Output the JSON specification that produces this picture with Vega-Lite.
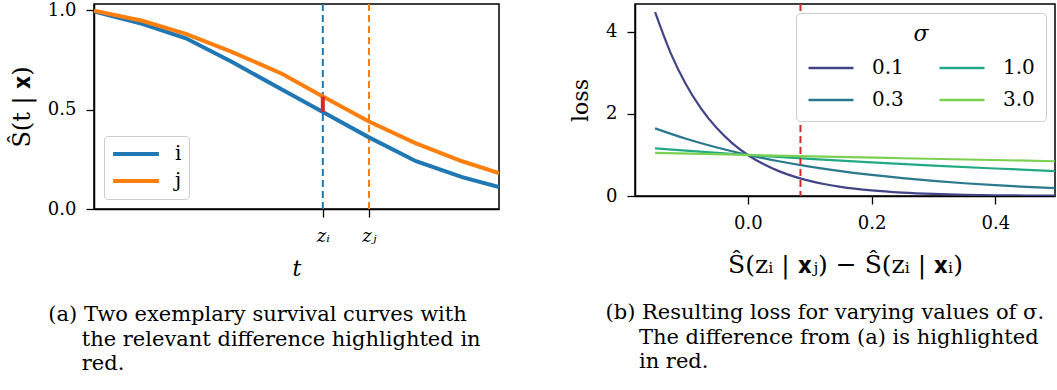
{
  "$schema": "https://vega.github.io/schema/vega-lite/v6.json",
  "padding": {"left": 9, "top": 0, "right": 0, "bottom": 0},
  "background": "white",
  "config": {
    "font": "DejaVu Serif",
    "view": {"stroke": "black", "strokeWidth": 1.5},
    "axis": {
      "grid": false,
      "domainColor": "black",
      "domainWidth": 1.5,
      "tickColor": "black",
      "tickWidth": 1.3,
      "tickSize": 8,
      "labelPadding": 10,
      "labelColor": "black",
      "labelFontSize": 18,
      "labelFont": "DejaVu Serif",
      "titleFont": "DejaVu Serif",
      "titleFontSize": 22,
      "titleFontWeight": "normal",
      "titleColor": "black"
    },
    "legend": {
      "labelFont": "DejaVu Serif",
      "titleFont": "DejaVu Serif",
      "labelColor": "black",
      "titleColor": "black"
    },
    "title": {"font": "DejaVu Serif", "fontWeight": "normal", "color": "black"}
  },
  "resolve": {"scale": {"color": "independent"}, "legend": {"color": "independent"}},
  "datasets": {
    "surv": [
      {"t": 0, "s": 0.993, "who": "i"},
      {"t": 1.19, "s": 0.93, "who": "i"},
      {"t": 2.27, "s": 0.858, "who": "i"},
      {"t": 3.4, "s": 0.74, "who": "i"},
      {"t": 4.64, "s": 0.6, "who": "i"},
      {"t": 5.65, "s": 0.487, "who": "i"},
      {"t": 6.79, "s": 0.36, "who": "i"},
      {"t": 7.95, "s": 0.24, "who": "i"},
      {"t": 9.09, "s": 0.16, "who": "i"},
      {"t": 10, "s": 0.11, "who": "i"},
      {"t": 0, "s": 0.997, "who": "j"},
      {"t": 1.19, "s": 0.946, "who": "j"},
      {"t": 2.27, "s": 0.88, "who": "j"},
      {"t": 3.4, "s": 0.79, "who": "j"},
      {"t": 4.64, "s": 0.68, "who": "j"},
      {"t": 5.65, "s": 0.565, "who": "j"},
      {"t": 6.79, "s": 0.44, "who": "j"},
      {"t": 7.95, "s": 0.33, "who": "j"},
      {"t": 9.09, "s": 0.24, "who": "j"},
      {"t": 10, "s": 0.18, "who": "j"}
    ],
    "marks": [
      {"t": 5.65, "who": "i"},
      {"t": 6.79, "who": "j"}
    ],
    "diff": [
      {"t": 5.65, "lo": 0.487, "hi": 0.565}
    ],
    "loss": [
      {"d": -0.15, "loss": 4.4817, "sigma": "0.1"},
      {"d": -0.125, "loss": 3.4903, "sigma": "0.1"},
      {"d": -0.1, "loss": 2.7183, "sigma": "0.1"},
      {"d": -0.075, "loss": 2.117, "sigma": "0.1"},
      {"d": -0.05, "loss": 1.6487, "sigma": "0.1"},
      {"d": -0.025, "loss": 1.284, "sigma": "0.1"},
      {"d": 0, "loss": 1, "sigma": "0.1"},
      {"d": 0.025, "loss": 0.7788, "sigma": "0.1"},
      {"d": 0.05, "loss": 0.6065, "sigma": "0.1"},
      {"d": 0.075, "loss": 0.4724, "sigma": "0.1"},
      {"d": 0.1, "loss": 0.3679, "sigma": "0.1"},
      {"d": 0.125, "loss": 0.2865, "sigma": "0.1"},
      {"d": 0.15, "loss": 0.2231, "sigma": "0.1"},
      {"d": 0.2, "loss": 0.1353, "sigma": "0.1"},
      {"d": 0.25, "loss": 0.0821, "sigma": "0.1"},
      {"d": 0.3, "loss": 0.0498, "sigma": "0.1"},
      {"d": 0.35, "loss": 0.0302, "sigma": "0.1"},
      {"d": 0.4, "loss": 0.0183, "sigma": "0.1"},
      {"d": 0.45, "loss": 0.0111, "sigma": "0.1"},
      {"d": 0.5, "loss": 0.0067, "sigma": "0.1"},
      {"d": -0.15, "loss": 1.6487, "sigma": "0.3"},
      {"d": -0.1, "loss": 1.3956, "sigma": "0.3"},
      {"d": -0.05, "loss": 1.1814, "sigma": "0.3"},
      {"d": 0, "loss": 1, "sigma": "0.3"},
      {"d": 0.05, "loss": 0.8465, "sigma": "0.3"},
      {"d": 0.1, "loss": 0.7165, "sigma": "0.3"},
      {"d": 0.15, "loss": 0.6065, "sigma": "0.3"},
      {"d": 0.2, "loss": 0.5134, "sigma": "0.3"},
      {"d": 0.25, "loss": 0.4346, "sigma": "0.3"},
      {"d": 0.3, "loss": 0.3679, "sigma": "0.3"},
      {"d": 0.35, "loss": 0.3114, "sigma": "0.3"},
      {"d": 0.4, "loss": 0.2636, "sigma": "0.3"},
      {"d": 0.45, "loss": 0.2231, "sigma": "0.3"},
      {"d": 0.5, "loss": 0.1889, "sigma": "0.3"},
      {"d": -0.15, "loss": 1.1618, "sigma": "1.0"},
      {"d": -0.1, "loss": 1.1052, "sigma": "1.0"},
      {"d": -0.05, "loss": 1.0513, "sigma": "1.0"},
      {"d": 0, "loss": 1, "sigma": "1.0"},
      {"d": 0.1, "loss": 0.9048, "sigma": "1.0"},
      {"d": 0.2, "loss": 0.8187, "sigma": "1.0"},
      {"d": 0.3, "loss": 0.7408, "sigma": "1.0"},
      {"d": 0.4, "loss": 0.6703, "sigma": "1.0"},
      {"d": 0.5, "loss": 0.6065, "sigma": "1.0"},
      {"d": -0.15, "loss": 1.0513, "sigma": "3.0"},
      {"d": 0, "loss": 1, "sigma": "3.0"},
      {"d": 0.25, "loss": 0.92, "sigma": "3.0"},
      {"d": 0.5, "loss": 0.8465, "sigma": "3.0"}
    ],
    "cut": [
      {"d": 0.085}
    ]
  },
  "hconcat": [
    {
      "width": 405,
      "height": 205,
      "title": {
        "text": ["(a) Two exemplary survival curves with", "\u200b\u00a0\u00a0\u00a0\u00a0\u00a0the relevant difference highlighted in", "\u200b\u00a0\u00a0\u00a0\u00a0\u00a0red."],
        "orient": "bottom",
        "anchor": "start",
        "fontSize": 21,
        "lineHeight": 24.5,
        "dx": 38,
        "offset": 25
      },
      "layer": [
        {
          "data": {"name": "marks"},
          "transform": [{"filter": "datum.who == 'i'"}],
          "mark": {"type": "rule", "color": "#1f77b4", "strokeWidth": 2, "strokeDash": [7, 4]},
          "encoding": {
            "x": {"field": "t", "type": "quantitative", "scale": {"domain": [0, 10], "nice": false}}
          }
        },
        {
          "data": {"name": "marks"},
          "transform": [{"filter": "datum.who == 'j'"}],
          "mark": {"type": "rule", "color": "#ff7f0e", "strokeWidth": 2, "strokeDash": [7, 4]},
          "encoding": {
            "x": {"field": "t", "type": "quantitative"}
          }
        },
        {
          "data": {"name": "surv"},
          "mark": {"type": "line", "strokeWidth": 4, "clip": true},
          "encoding": {
            "x": {
              "field": "t", "type": "quantitative",
              "scale": {"domain": [0, 10], "nice": false, "zero": false},
              "axis": {
                "values": [5.65, 6.79],
                "labelExpr": "datum.value < 6 ? 'z\u1d62' : 'z\u2c7c'",
                "labelFontStyle": "italic",
                "title": "t",
                "titleFontStyle": "italic",
                "titlePadding": 13
              }
            },
            "y": {
              "field": "s", "type": "quantitative",
              "scale": {"domain": [0, 1.0302], "nice": false},
              "axis": {"values": [0, 0.5, 1], "format": ".1f", "title": "\u015c(t | \ud835\udc31)", "titleFontSize": 24, "titlePadding": 13}
            },
            "color": {
              "field": "who", "type": "nominal",
              "scale": {"domain": ["i", "j"], "range": ["#1f77b4", "#ff7f0e"]},
              "legend": {
                "title": null,
                "orient": "bottom-left",
                "offset": 10,
                "symbolType": "stroke",
                "symbolStrokeWidth": 4,
                "symbolSize": 2100,
                "clipHeight": 22,
                "labelFontSize": 20,
                "labelOffset": 14,
                "rowPadding": 5,
                "fillColor": "white",
                "strokeColor": "#cccccc",
                "cornerRadius": 4,
                "padding": 7
              }
            }
          }
        },
        {
          "data": {"name": "diff"},
          "mark": {"type": "rule", "color": "#d62728", "strokeWidth": 4},
          "encoding": {
            "x": {"field": "t", "type": "quantitative"},
            "y": {"field": "lo", "type": "quantitative"},
            "y2": {"field": "hi"}
          }
        }
      ]
    },
    {
      "width": 420,
      "height": 192,
      "title": {
        "text": ["(b) Resulting loss for varying values of \u03c3.", "\u200b\u00a0\u00a0\u00a0\u00a0\u00a0The difference from (a) is highlighted", "\u200b\u00a0\u00a0\u00a0\u00a0\u00a0in red."],
        "orient": "bottom",
        "anchor": "start",
        "fontSize": 21,
        "lineHeight": 24.5,
        "dx": 36,
        "offset": 25
      },
      "layer": [
        {
          "data": {"name": "loss"},
          "mark": {"type": "line", "strokeWidth": 2.2, "clip": true, "interpolate": "monotone"},
          "encoding": {
            "x": {
              "field": "d", "type": "quantitative",
              "scale": {"domain": [-0.1825, 0.4965], "nice": false, "zero": false},
              "axis": {
                "values": [0, 0.2, 0.4],
                "format": ".1f",
                "title": "\u015c(z\u1d62 | \ud835\udc31\u2c7c) \u2212 \u015c(z\u1d62 | \ud835\udc31\u1d62)",
                "titleFontSize": 25,
                "titlePadding": 20
              }
            },
            "y": {
              "field": "loss", "type": "quantitative",
              "scale": {"domain": [0, 4.68], "nice": false},
              "axis": {"values": [0, 2, 4], "title": "loss", "titlePadding": 13}
            },
            "color": {
              "field": "sigma", "type": "nominal",
              "scale": {"domain": ["0.1", "0.3", "1.0", "3.0"], "range": ["#414487", "#2a788e", "#22a884", "#7ad151"]},
              "legend": {
                "title": "\u03c3",
                "titleFontStyle": "italic",
                "titleFontWeight": "normal",
                "titleFontSize": 22,
                "titleAnchor": "middle",
                "titlePadding": 13,
                "orient": "top-right",
                "offset": 9,
                "columns": 2,
                "columnPadding": 34,
                "rowPadding": 12,
                "symbolType": "stroke",
                "symbolStrokeWidth": 2.5,
                "symbolSize": 2025,
                "clipHeight": 18,
                "labelFontSize": 20,
                "labelOffset": 17,
                "fillColor": "white",
                "strokeColor": "#cccccc",
                "cornerRadius": 4,
                "padding": 11
              }
            }
          }
        },
        {
          "data": {"name": "cut"},
          "mark": {"type": "rule", "color": "#d62728", "strokeWidth": 2, "strokeDash": [7, 4]},
          "encoding": {
            "x": {"field": "d", "type": "quantitative"}
          }
        }
      ]
    }
  ],
  "spacing": 68
}
